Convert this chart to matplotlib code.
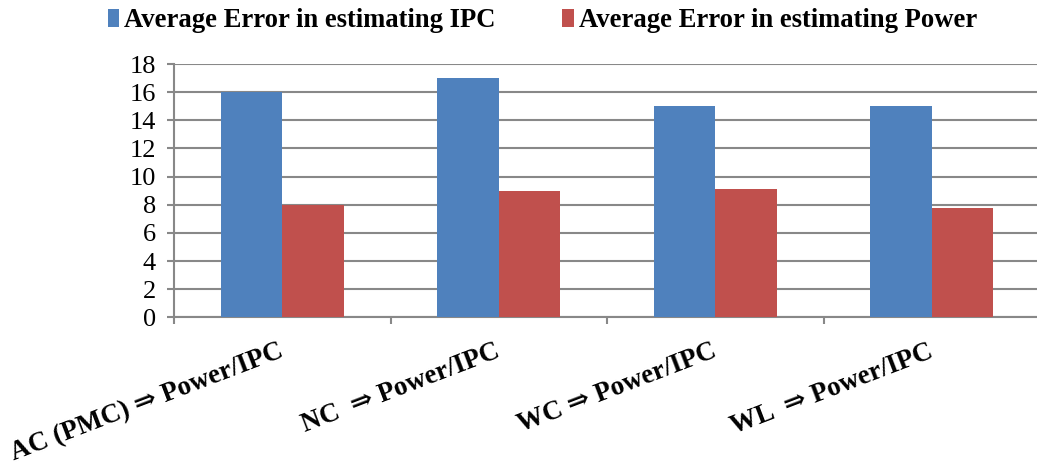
import matplotlib
matplotlib.use('Agg')
import matplotlib.pyplot as plt
import numpy as np

categories = ['AC (PMC) \u21d2 Power/IPC', 'NC  \u21d2 Power/IPC',
              'WC \u21d2 Power/IPC', 'WL  \u21d2 Power/IPC']
ipc_error = [16, 17, 15, 15]
power_error = [8, 9, 9.15, 7.75]
series_names = ['Average Error in estimating IPC', 'Average Error in estimating Power']

blue = '#4F81BD'
red = '#C0504D'
grid_gray = '#888888'
serif = ['Liberation Serif', 'DejaVu Serif']

plt.rcParams['font.family'] = serif

fig = plt.figure(figsize=(10.37, 4.65), dpi=100)
ax = fig.add_axes([174 / 1037, 147.7 / 465, 866 / 1037, 253.3 / 465])

x = np.arange(len(categories))
w = 0.285
ax.bar(x - w / 2, ipc_error, w, color=blue, label=series_names[0], zorder=3)
ax.bar(x + w / 2, power_error, w, color=red, label=series_names[1], zorder=3)

ax.set_xlim(-0.5, len(categories) - 0.5)
ax.set_ylim(0, 18)
ax.set_yticks(range(0, 19, 2))
ax.yaxis.grid(True, color=grid_gray, linewidth=1.5, zorder=0)
ax.set_axisbelow(True)

for s in ['top', 'right']:
    ax.spines[s].set_visible(False)
for s in ['left', 'bottom']:
    ax.spines[s].set_color(grid_gray)
    ax.spines[s].set_linewidth(1.5)

ax.tick_params(axis='y', length=5, width=1.5, color=grid_gray, pad=8,
               labelsize=19)

# group separators as major ticks, labels on minor ticks at centers
ax.set_xticks(np.arange(-0.5, len(categories), 1.0))
ax.set_xticklabels([])
ax.tick_params(axis='x', which='major', length=5, width=1.5, color=grid_gray)
ax.set_xticks(x, minor=True)
ax.set_xticklabels(categories, minor=True, rotation=21, ha='right',
                   rotation_mode='anchor', va='center', fontsize=19.5,
                   fontweight='bold')
ax.tick_params(axis='x', which='minor', length=0, pad=24)

leg = fig.legend(loc='upper left', bbox_to_anchor=(97 / 1037, 1.005), ncol=2,
                 frameon=False, prop={'family': serif, 'weight': 'bold', 'size': 19.2},
                 handlelength=0.42, handleheight=0.7, handletextpad=0.2,
                 columnspacing=2.5, borderaxespad=0.0)

fig.savefig('out.png', dpi=100)
